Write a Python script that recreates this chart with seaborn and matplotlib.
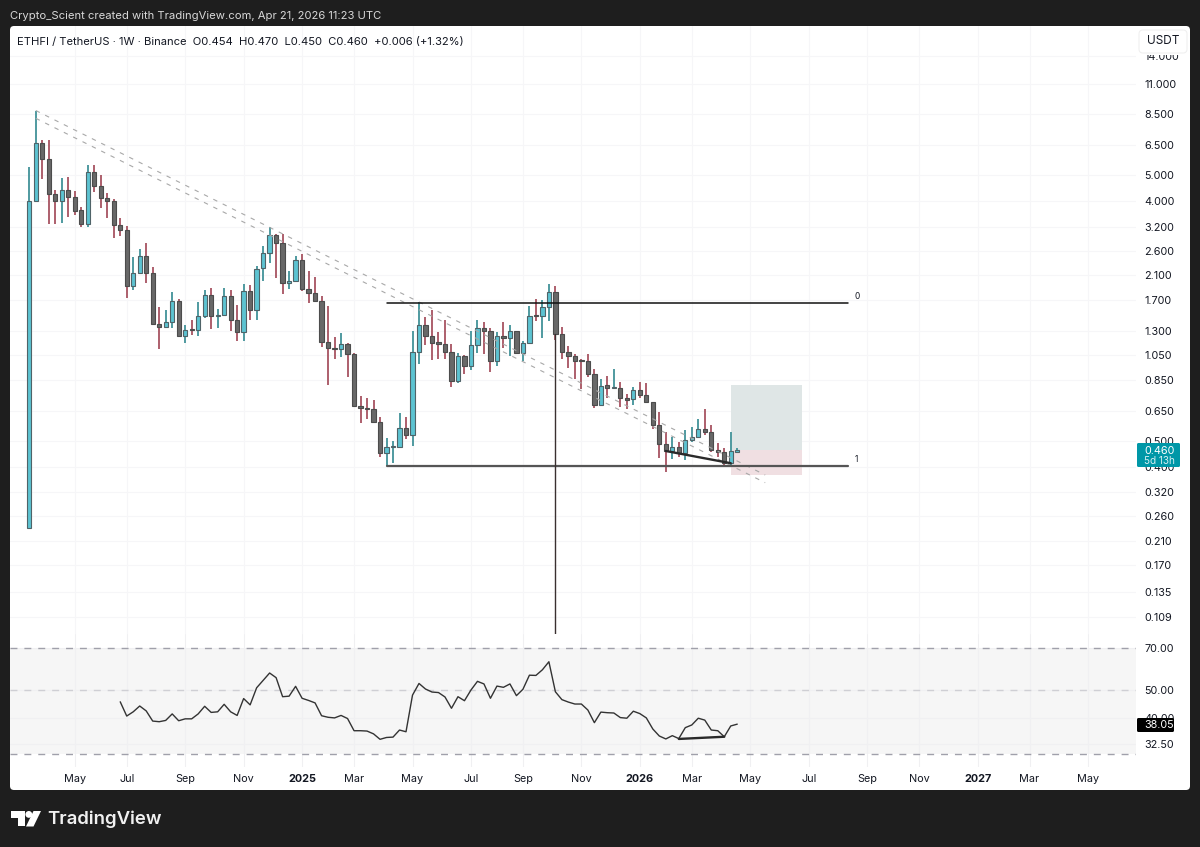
import numpy as np
import pandas as pd
import seaborn as sns
import matplotlib
matplotlib.use("Agg")
import matplotlib.pyplot as plt
from matplotlib.patches import FancyBboxPatch, Rectangle, Polygon, Circle
from matplotlib.ticker import FixedLocator, FixedFormatter, NullLocator

opens = [.234,4.00,6.60,5.76,4.25,4.00,4.40,4.13,3.69,3.28,
 5.14,4.56,4.09,4.00,3.24,3.11,1.91,2.14,2.49,2.14,
 1.38,1.34,1.40,1.68,1.24,1.32,1.31,1.48,1.77,1.48,
 1.49,1.75,1.43,1.28,1.83,1.56,2.23,2.54,2.98,2.78,
 1.97,1.99,2.39,1.87,1.80,1.68,1.18,1.12,1.11,1.16,
 1.06,.675,.665,.658,.591,.452,.476,.476,.558,.524,
 1.08,1.37,1.24,1.18,1.16,1.08,.843,1.045,.960,1.15,
 1.33,1.29,1.00,1.24,1.22,1.29,1.07,1.17,1.49,1.47,
 1.60,1.81,1.26,1.08,1.045,1.01,1.00,.895,.683,.812,
 .790,.790,.723,.717,.778,.745,.699,.572,.487,.458,
 .474,.450,.503,.519,.555,.541,.463,.454,.412,.454]
highs = [5.35,8.75,6.79,6.79,4.40,4.87,4.90,4.35,3.79,5.45,
 5.45,5.02,4.27,4.05,3.44,3.22,2.46,2.63,2.77,2.25,
 1.59,1.56,1.82,1.71,1.37,1.43,1.66,1.85,1.88,1.57,
 1.88,1.85,1.62,1.94,1.93,2.27,2.71,3.18,3.00,3.00,
 2.18,2.48,2.52,2.18,2.07,1.76,1.61,1.23,1.27,1.17,
 1.07,.739,.724,.713,.614,.511,.500,.639,.617,1.30,
 1.66,1.46,1.55,1.28,1.42,1.16,1.07,1.05,1.29,1.42,
 1.40,1.33,1.28,1.40,1.36,1.30,1.19,1.61,1.71,1.70,
 1.95,1.92,1.34,1.14,1.06,1.02,1.06,.930,.858,.880,
 .930,.833,.750,.795,.836,.824,.70,.641,.540,.516,
 .495,.550,.565,.603,.660,.572,.491,.470,.542,.470]
lows = [.234,4.00,4.83,3.28,3.28,3.31,3.49,3.54,3.19,3.20,
 4.32,3.75,3.44,2.91,2.94,1.72,1.85,2.14,1.97,1.36,
 1.11,1.34,1.33,1.24,1.17,1.25,1.24,1.45,1.32,1.33,
 1.47,1.29,1.19,1.19,1.43,1.43,2.00,2.33,2.05,1.79,
 1.86,1.99,1.83,1.65,1.66,1.13,.812,1.02,1.03,.873,
 .672,.583,.603,.586,.434,.402,.414,.476,.507,.480,
 .975,1.15,1.01,1.02,1.02,.800,.828,.893,.920,1.07,
 1.06,.911,.960,1.12,1.04,1.06,.995,1.17,1.41,1.22,
 1.41,1.20,1.02,.938,.853,.785,.866,.667,.677,.723,
 .788,.672,.660,.683,.723,.699,.555,.432,.383,.428,
 .436,.424,.494,.519,.526,.455,.436,.406,.406,.450]
closes = [4.00,6.60,5.76,4.25,4.00,4.40,4.15,3.67,3.28,5.14,
 4.56,4.09,4.00,3.24,3.11,1.91,2.14,2.49,2.14,1.38,
 1.34,1.40,1.68,1.24,1.31,1.31,1.48,1.77,1.48,1.49,
 1.75,1.43,1.28,1.83,1.56,2.21,2.54,2.98,2.78,1.97,
 1.99,2.39,1.87,1.80,1.68,1.18,1.12,1.11,1.16,1.06,
 .675,.665,.658,.591,.452,.474,.480,.558,.524,1.08,
 1.37,1.24,1.17,1.16,1.08,.843,1.045,.960,1.15,1.33,
 1.29,1.00,1.24,1.22,1.29,1.07,1.17,1.48,1.47,1.60,
 1.81,1.26,1.08,1.045,1.00,1.00,.895,.683,.807,.790,
 .794,.723,.715,.778,.747,.699,.572,.487,.458,.474,
 .450,.503,.519,.555,.541,.463,.454,.412,.456,.460]
rsi_values = [45.5,40.6,42.0,44.0,42.3,39.0,38.8,39.2,41.3,39.1,
 39.7,39.7,41.3,43.9,41.8,42.0,44.6,42.0,40.8,46.7,
 44.4,50.9,54.0,57.3,55.2,47.4,47.6,51.5,46.8,46.0,
 45.1,40.7,40.2,40.0,40.8,39.8,36.1,36.1,36.0,35.2,
 33.7,34.2,34.3,36.3,35.8,48.0,52.7,50.4,49.2,49.0,
 47.3,43.2,47.4,45.9,50.0,53.6,52.5,46.8,51.6,51.1,
 52.5,47.8,50.3,56.3,56.2,58.8,62.7,49.3,46.3,45.4,
 44.7,44.7,42.6,38.5,41.9,41.7,41.6,40.1,39.9,42.2,
 41.4,40.0,36.6,34.6,33.8,34.7,33.9,37.0,37.8,39.9,
 39.3,36.3,36.1,34.4,37.5,38.05]
rsi_start_week = 14

month_weeks = [7,15,24,33,42,50,59,68,76,85,94,102,111,120,129,137,146,154,163]
month_labels = ["May","Jul","Sep","Nov","2025","Mar","May","Jul","Sep","Nov","2026",
                "Mar","May","Jul","Sep","Nov","2027","Mar","May"]
year_labels = {"2025","2026","2027"}
price_ticks = [14,11,8.5,6.5,5,4,3.2,2.6,2.1,1.7,1.3,1.05,.85,.65,.5,.4,.32,.26,.21,.17,.135,.109]
rsi_ticks = [70,50,40,32.5]

# drawing anchors in (week, price)
trend_weeks = [1,113.3]
trend_upper = [8.75,.372]
trend_lower = [8.18,.348]
fib_weeks = [55,126]
fib_levels = [1.65,.402]
vline_week = 81
vline_top = 1.26
pos_weeks = [108,119]
pos_target, pos_entry, pos_stop = .812,.463,.373
div_weeks = [98,108]
div_prices = [.458,.412]
rsi_div_weeks = [100,107]
rsi_div_vals = [33.8,34.4]

sns.set_theme(style="white")
FONT = ['Inter','DejaVu Sans']
plt.rcParams['font.family'] = FONT

W,H = 1200,847
DARK = "#1e1e1e"
INK = "#131722"
fig = plt.figure(figsize=(W/100,H/100),dpi=100,facecolor=DARK)

def rect(l,t,r,b):
    return [l/W,1-b/H,(r-l)/W,(b-t)/H]

bg = fig.add_axes([0,0,1,1],zorder=0)
bg.set_xlim(0,W); bg.set_ylim(H,0); bg.axis("off")
bg.add_patch(FancyBboxPatch((13,29),1174,758,boxstyle="round,pad=3,rounding_size=4",fc="white",ec="none"))

ax = fig.add_axes(rect(10,26,1136,634),zorder=2,facecolor="none")
rs = fig.add_axes(rect(10,634,1136,767),zorder=2,facecolor="none",sharex=ax)

xl = ((10-29.3)/6.495,(1136-29.3)/6.495)
weeks = np.arange(len(closes))
o,h,l,c = map(np.array,(opens,highs,lows,closes))
up = c>=o

# position box under candles
ax.add_patch(Rectangle((pos_weeks[0],pos_entry),pos_weeks[1]-pos_weeks[0],pos_target-pos_entry,fc="#dfe6e6",ec="none",zorder=1))
ax.add_patch(Rectangle((pos_weeks[0],pos_stop),pos_weeks[1]-pos_weeks[0],pos_entry-pos_stop,fc="#f0dfe2",ec="none",zorder=1))

ax.set_yscale("log")
ax.vlines(weeks[up],l[up],h[up],color="#4f9aa0",lw=1.4,zorder=3)
ax.vlines(weeks[~up],l[~up],h[~up],color="#ad5f6c",lw=1.4,zorder=3)
ax.bar(weeks[up],(c-o)[up],bottom=o[up],width=.66,color="#5cc3d1",edgecolor="#4f6368",linewidth=.8,zorder=4)
ax.bar(weeks[~up],(o-c)[~up],bottom=c[~up],width=.66,color="#686868",edgecolor="#4c4c4c",linewidth=.8,zorder=4)

ax.plot(trend_weeks,trend_upper,color="#a8a8a8",lw=.8,ls=(0,(4,5.4)),zorder=5)
ax.plot(trend_weeks,trend_lower,color="#a8a8a8",lw=.8,ls=(0,(4,5.4)),zorder=5)
ax.plot(fib_weeks,[fib_levels[0]]*2,color="#111111",lw=1.1,zorder=6)
ax.plot(fib_weeks,[fib_levels[1]]*2,color="#555555",lw=1.6,zorder=6)
ax.plot(div_weeks,div_prices,color="#2a2a2a",lw=1.7,zorder=6)
ax.set_ylim(.0938,18.2)
ax.plot([vline_week]*2,[.0938,vline_top],color="#3a3030",lw=1.0,zorder=6)
ax.text(fib_weeks[1]+1.0,fib_levels[0]*1.055,"0",fontsize=6,color=INK,ha="left",va="center")
ax.text(fib_weeks[1]+1.0,fib_levels[1]*1.055,"1",fontsize=6,color=INK,ha="left",va="center")

ax.yaxis.tick_right()
ax.yaxis.set_major_locator(FixedLocator(price_ticks))
ax.yaxis.set_major_formatter(FixedFormatter([f"{t:.3f}" for t in price_ticks]))
ax.yaxis.set_minor_locator(NullLocator())
ax.tick_params(axis="y",length=0,pad=6,labelsize=7.8,labelcolor=INK)
ax.tick_params(axis="x",length=0,labelbottom=False)
ax.grid(True,axis="both",color="#f6f6f8",lw=.8,zorder=0)
ax.set_axisbelow(True)
for s in ax.spines.values(): s.set_visible(False)

# RSI pane
rs.set_yscale("log")
rs.axhspan(30,70,color="#f6f6f6",zorder=0,lw=0)
rs.axhline(70,color="#a0a0aa",lw=1,ls=(0,(5,5)),zorder=2)
rs.axhline(50,color="#cfcfd4",lw=1,ls=(0,(5,5)),zorder=2)
rs.axhline(30,color="#a0a0aa",lw=1,ls=(0,(5,5)),zorder=2)
rsi_df = pd.DataFrame({"week":np.arange(rsi_start_week,rsi_start_week+len(rsi_values)),"rsi":rsi_values})
sns.lineplot(data=rsi_df,x="week",y="rsi",ax=rs,color="#333333",lw=1.0,estimator=None,errorbar=None,zorder=4)
rs.plot(rsi_div_weeks,rsi_div_vals,color="#2a2a2a",lw=1.7,zorder=5)
rs.set_ylim(27.0,78.3)
rs.set_xlabel(""); rs.set_ylabel("")
rs.yaxis.tick_right()
rs.yaxis.set_major_locator(FixedLocator(rsi_ticks))
rs.yaxis.set_major_formatter(FixedFormatter([f"{t:.2f}" for t in rsi_ticks]))
rs.yaxis.set_minor_locator(NullLocator())
rs.tick_params(axis="y",length=0,pad=6,labelsize=7.8,labelcolor=INK)
rs.set_xticks(month_weeks)
rs.set_xticklabels(month_labels)
rs.tick_params(axis="x",length=0,pad=5,labelsize=7.8,labelcolor=INK)
for t in rs.get_xticklabels():
    if t.get_text() in year_labels: t.set_fontweight("bold")
rs.grid(True,axis="both",color="#f0f0f2",lw=.8,zorder=1)
rs.set_axisbelow(True)
for s in rs.spines.values(): s.set_visible(False)
ax.set_xlim(*xl)

# overlay: labels, header, logo
ov = fig.add_axes([0,0,1,1],zorder=5,facecolor="none")
ov.set_xlim(0,W); ov.set_ylim(H,0); ov.axis("off")
ov.text(10,16,"Crypto_Scient created with TradingView.com, Apr 21, 2026 11:23 UTC",color="#d8d8d8",fontsize=8.1,va="center")
ov.text(17,42,"ETHFI / TetherUS · 1W · Binance  O0.454  H0.470  L0.450  C0.460  +0.006 (+1.32%)",color=INK,fontsize=8.05,va="center")
ov.add_patch(Rectangle((1138,48),50,7.5,fc="white",ec="none"))
ov.add_patch(FancyBboxPatch((1141,32),44,19,boxstyle="round,pad=2,rounding_size=4",fc="white",ec="#f0f0f0",lw=.8))
ov.text(1163,41.3,"USDT",color=INK,fontsize=8.5,ha="center",va="center")
ov.add_patch(FancyBboxPatch((1138,444),41,22,boxstyle="round,pad=1,rounding_size=1.5",fc="#0097a7",ec="none"))
ov.text(1144,450.5,"0.460",color="white",fontsize=7.8,va="center")
ov.text(1144,461.5,"5d 13h",color="#d4eef1",fontsize=7.2,va="center")
ov.add_patch(FancyBboxPatch((1138,719),35,12,boxstyle="round,pad=1,rounding_size=1.5",fc="black",ec="none"))
ov.text(1144,725.3,"38.05",color="white",fontsize=7.8,va="center")
ov.add_patch(Polygon([(11,811),(24.5,811),(24.5,826.5),(17.5,826.5),(17.5,818),(11,818)],fc="white",ec="none"))
ov.add_patch(Circle((28.8,814.4),3.4,fc="white",ec="none"))
ov.add_patch(Polygon([(33.5,811),(41,811),(33.5,826.5),(26,826.5)],fc="white",ec="none"))
ov.text(47,819.3,"TradingView",color="#f0f0f0",fontsize=13.4,fontweight="semibold",va="center")

fig.savefig("out.png",dpi=100,facecolor=DARK)
